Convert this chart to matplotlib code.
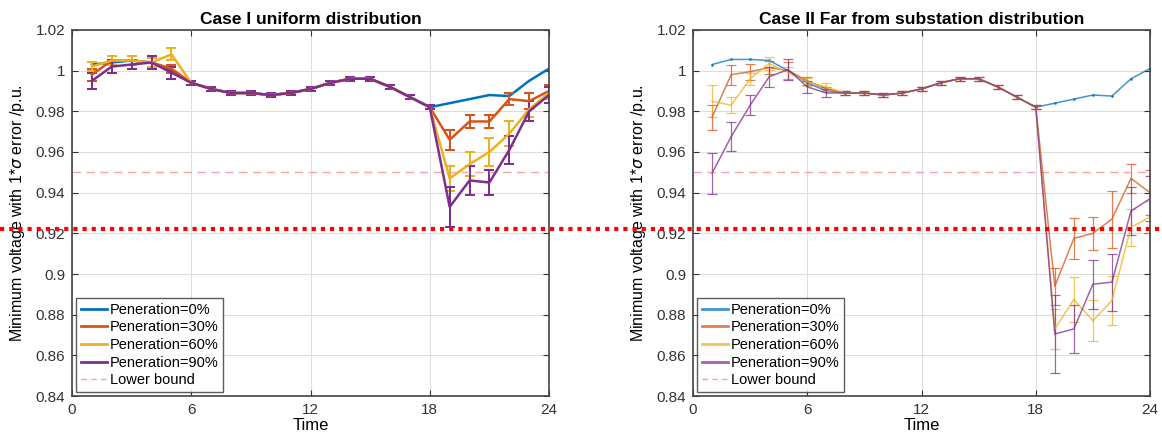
import matplotlib
matplotlib.use("Agg")
import matplotlib.pyplot as plt
import matplotlib.transforms as mtransforms
from matplotlib.lines import Line2D

plt.rcParams['font.family'] = ['Liberation Sans', 'DejaVu Sans']

hours = list(range(1, 25))

# Case I - uniform distribution
mid1 = [0.994, 0.991, 0.989, 0.989, 0.988, 0.989, 0.991, 0.994, 0.996, 0.996, 0.992, 0.987, 0.982]
c1_p0 = [1.003, 1.004, 1.005, 1.004, 1.000] + mid1 + [0.984, 0.986, 0.988, 0.9875, 0.995, 1.001]
c1_p30 = [0.998, 1.005, 1.005, 1.004, 1.001] + mid1 + [0.966, 0.975, 0.975, 0.986, 0.985, 0.990]
c1_p60 = [1.002, 1.005, 1.005, 1.004, 1.008] + mid1 + [0.947, 0.954, 0.960, 0.969, 0.981, 0.989]
c1_p90 = [0.995, 1.002, 1.003, 1.004, 0.999] + mid1 + [0.933, 0.946, 0.945, 0.961, 0.980, 0.988]
c1_e30 = [0.003, 0.002, 0.002, 0.002, 0.002] + [0.001] * 13 + [0.005, 0.003, 0.003, 0.003, 0.004, 0.003]
c1_e60 = [0.002, 0.002, 0.002, 0.002, 0.003] + [0.001] * 13 + [0.006, 0.006, 0.007, 0.006, 0.004, 0.003]
c1_e90 = [0.004, 0.003, 0.002, 0.003, 0.003] + [0.001] * 13 + [0.010, 0.007, 0.006, 0.007, 0.005, 0.004]

# Case II - far from substation
mid2 = [0.989, 0.989, 0.988, 0.989, 0.991, 0.994, 0.996, 0.996, 0.992, 0.987, 0.982]
c2_p0 = [1.003, 1.0055, 1.0055, 1.005, 1.000, 0.994, 0.990] + mid2 + [0.984, 0.986, 0.988, 0.9875, 0.996, 1.001]
c2_p30 = [0.977, 0.998, 0.9995, 1.0015, 1.000, 0.995, 0.991] + mid2 + [0.894, 0.9175, 0.920, 0.927, 0.947, 0.940]
c2_p60 = [0.985, 0.983, 0.996, 1.0035, 0.999, 0.9945, 0.992] + mid2 + [0.873, 0.8875, 0.877, 0.887, 0.923, 0.928]
c2_p90 = [0.9495, 0.9675, 0.983, 0.997, 1.0005, 0.992, 0.989] + mid2 + [0.8705, 0.873, 0.895, 0.896, 0.931, 0.937]
c2_e30 = [0.006, 0.005, 0.004, 0.003, 0.004, 0.002, 0.001] + [0.001] * 11 + [0.009, 0.010, 0.008, 0.014, 0.007, 0.011]
c2_e60 = [0.008, 0.004, 0.003, 0.003, 0.003, 0.002, 0.002] + [0.001] * 11 + [0.010, 0.011, 0.010, 0.012, 0.009, 0.008]
c2_e90 = [0.010, 0.007, 0.005, 0.005, 0.005, 0.003, 0.002] + [0.001] * 11 + [0.019, 0.012, 0.012, 0.014, 0.012, 0.011]

lower_bound = 0.95
red_line = 0.922

labels = ['Peneration=0%', 'Peneration=30%', 'Peneration=60%', 'Peneration=90%']
colors = ['#0072BD', '#D95319', '#EDB120', '#7E2F8E']
bound_color = '#F4A6A6'
titles = ['Case I uniform distribution', 'Case II Far from substation distribution']

fig = plt.figure(figsize=(11.62, 4.47), dpi=100)
ax1 = fig.add_axes([0.062, 0.114, 0.4105, 0.819])
ax2 = fig.add_axes([0.5964, 0.114, 0.3933, 0.819])

cases = [
    (ax1, c1_p0, [c1_p30, c1_p60, c1_p90], [c1_e30, c1_e60, c1_e90], 1.8, 1.0, 0),
    (ax2, c2_p0, [c2_p30, c2_p60, c2_p90], [c2_e30, c2_e60, c2_e90], 1.1, 0.75, 2),
]

for i, (ax, p0, ps, es, lw, alpha, ms) in enumerate(cases):
    ax.plot(hours, p0, color=colors[0], lw=lw, marker='.', ms=ms, alpha=alpha)
    for j in range(3):
        ax.errorbar(hours, ps[j], yerr=es[j], color=colors[j + 1], lw=lw, elinewidth=lw * 0.8,
                    capsize=3.5, capthick=lw * 0.8, alpha=alpha)
    ax.axhline(lower_bound, color=bound_color, ls=(0, (6, 4)), lw=1.0)
    ax.set_xlim(0, 24)
    ax.set_ylim(0.84, 1.02)
    ax.set_xticks([0, 6, 12, 18, 24])
    ax.set_yticks([0.84, 0.86, 0.88, 0.9, 0.92, 0.94, 0.96, 0.98, 1.0, 1.02])
    ax.set_yticklabels(['0.84', '0.86', '0.88', '0.9', '0.92', '0.94', '0.96', '0.98', '1', '1.02'])
    ax.grid(True, color='#DDDDDD', lw=0.8)
    ax.set_axisbelow(True)
    ax.tick_params(direction='in', top=True, right=True, labelsize=11, colors='#333333', length=4, pad=5)
    for sp in ax.spines.values():
        sp.set_color('#444444')
        sp.set_linewidth(1.2)
    ax.set_title(titles[i], fontsize=12.5, fontweight='bold', pad=4)
    ax.set_xlabel('Time', fontsize=12, labelpad=1)
    ax.set_ylabel('Minimum voltage with 1*$\\sigma$ error /p.u.', fontsize=11.5, labelpad=6)
    handles = [Line2D([], [], color=c, lw=2.0, alpha=alpha) for c in colors]
    handles.append(Line2D([], [], color=bound_color, lw=1.0, ls=(0, (4, 3))))
    leg = ax.legend(handles, labels + ['Lower bound'], loc='lower left', fontsize=10.5,
                    frameon=True, fancybox=False, edgecolor='#333333', handlelength=1.8,
                    handletextpad=0.2, borderpad=0.3, labelspacing=0.25, borderaxespad=0.3)
    leg.get_frame().set_linewidth(1.0)

# red dotted line running across the whole figure
trans = mtransforms.blended_transform_factory(fig.transFigure, ax1.transData)
fig.add_artist(Line2D([0, 1], [red_line, red_line], transform=trans, color='red',
                      lw=3, ls=(0, (1, 1.2)), zorder=10))

fig.savefig('out.png', dpi=100)
